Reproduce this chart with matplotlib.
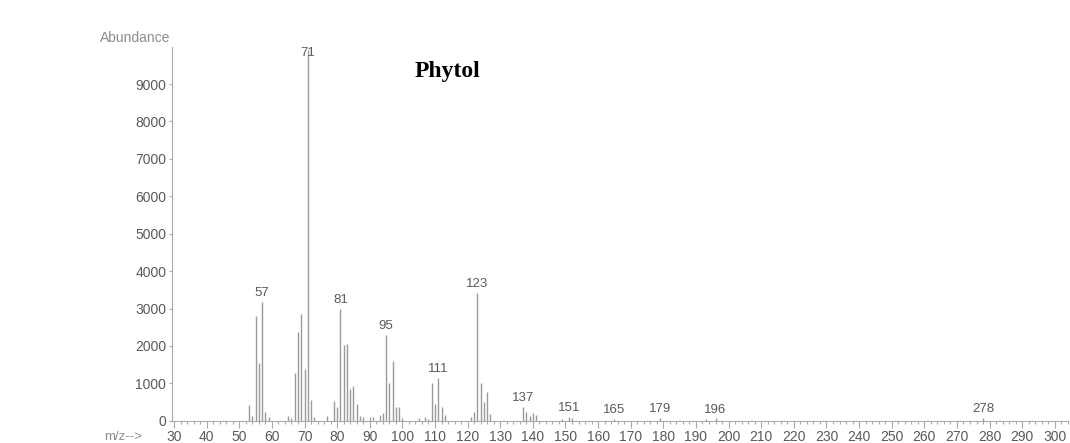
import matplotlib.pyplot as plt
from matplotlib.ticker import MultipleLocator

# m/z values and abundances of the phytol spectrum
mz = [53, 54, 55, 56, 57, 58, 59,
      65, 66, 67, 68, 69, 70, 71, 72, 73,
      77, 79, 80, 81, 82, 83, 84, 85, 86, 87, 88,
      90, 91, 93, 94, 95, 96, 97, 98, 99, 100,
      105, 107, 108, 109, 110, 111, 112, 113,
      121, 122, 123, 124, 125, 126, 127,
      137, 138, 139, 140, 141,
      149, 151, 152, 165, 179, 193, 196, 278]
abundance = [420, 125, 2810, 1535, 3185, 240, 107,
             120, 70, 1270, 2365, 2855, 1375, 9900, 555, 110,
             130, 535, 375, 2980, 2025, 2045, 840, 930, 450, 135, 110,
             105, 100, 150, 215, 2285, 1000, 1600, 360, 360, 70,
             60, 100, 50, 1000, 455, 1135, 375, 160,
             100, 225, 3410, 1000, 510, 775, 180,
             375, 240, 135, 197, 160,
             40, 107, 80, 40, 80, 40, 60, 70]
labeled = [57, 71, 81, 95, 111, 123, 137, 151, 165, 179, 196, 278]

LINE = '#9a9a9a'
TEXT = '#5a5a5a'

plt.rcParams['font.family'] = ['Liberation Sans', 'DejaVu Sans']

fig = plt.figure(figsize=(10.70, 4.43), dpi=100)
ax = fig.add_axes([0.1605, 0.0503, 0.8375, 0.8443])

ax.vlines(mz, 0, abundance, color=LINE, lw=1.0)

peak = dict(zip(mz, abundance))
for m in labeled:
    if m == 71:
        # base peak label sits on top of its own line
        ax.text(m, 10000, str(m), ha='center', va='top', fontsize=9.5, color=TEXT)
    else:
        ax.annotate(str(m), (m, peak[m]), xytext=(0, 2), textcoords='offset points',
                    ha='center', va='bottom', fontsize=9.5, color=TEXT)

ax.set_xlim(29.3, 304)
ax.set_ylim(0, 10000)
ax.xaxis.set_major_locator(MultipleLocator(10))
ax.xaxis.set_minor_locator(MultipleLocator(2))
ax.yaxis.set_major_locator(MultipleLocator(1000))
ax.set_yticks(range(0, 10000, 1000))

for side in ['top', 'right']:
    ax.spines[side].set_visible(False)
for side in ['left', 'bottom']:
    ax.spines[side].set_color('#aaaaaa')
    ax.spines[side].set_linewidth(0.8)

ax.tick_params(axis='x', which='major', length=5, width=0.8, color='#aaaaaa',
               labelsize=10, labelcolor=TEXT, pad=2)
ax.tick_params(axis='x', which='minor', length=2.5, width=0.8, color='#aaaaaa')
ax.tick_params(axis='y', which='major', length=2, width=0.8, color='#aaaaaa',
               labelsize=10, labelcolor=TEXT, pad=2)

fig.text(170 / 1070, 1 - 38 / 443, 'Abundance', ha='right', va='center',
         fontsize=10, color='#8c8c8c')
fig.text(142 / 1070, 1 - 437 / 443, 'm/z-->', ha='right', va='center',
         fontsize=9.5, color='#8c8c8c')
fig.text(447 / 1070, 1 - 72 / 443, 'Phytol', ha='center', va='center',
         fontsize=17, fontweight='bold', color='black',
         family=['Liberation Serif', 'DejaVu Serif'])

fig.savefig('out.png', dpi=100)
